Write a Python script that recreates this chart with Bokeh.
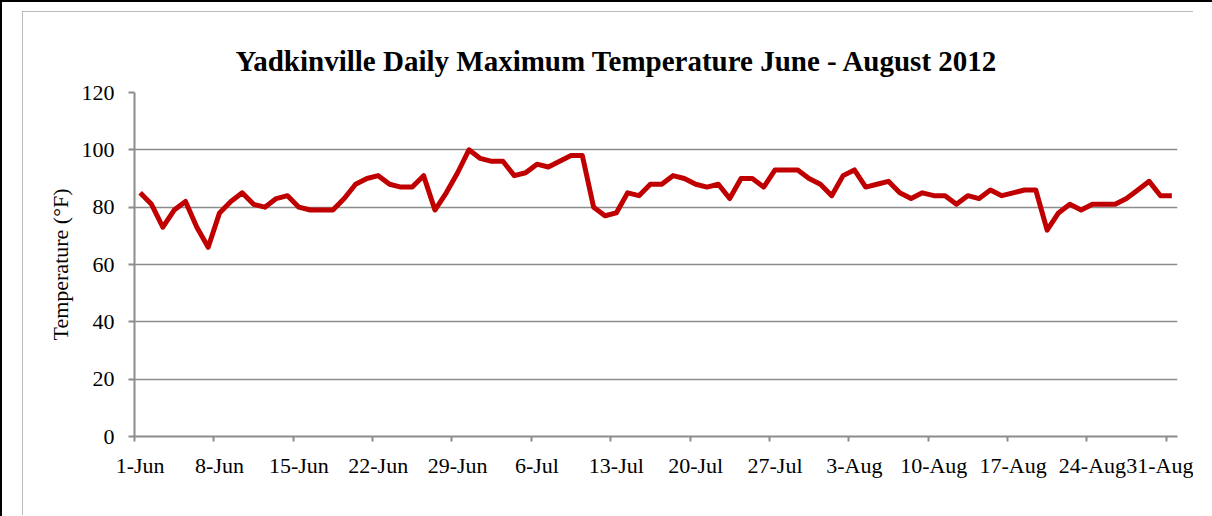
from bokeh.plotting import figure
from bokeh.models import Range1d, FixedTicker, LinearAxis
from bokeh.embed import file_html
from bokeh.resources import INLINE

# ---- data ----
tick_labels = ["1-Jun", "8-Jun", "15-Jun", "22-Jun", "29-Jun", "6-Jul", "13-Jul",
               "20-Jul", "27-Jul", "3-Aug", "10-Aug", "17-Aug", "24-Aug", "31-Aug"]
tick_days = [0, 7, 14, 21, 28, 35, 42, 49, 56, 63, 70, 77, 84, 91]
y_ticks = [0, 20, 40, 60, 80, 100, 120]
temps_june = [85, 81, 73, 79, 82, 73, 66, 78, 82, 85, 81, 80, 83, 84, 80, 79, 79, 79,
              83, 88, 90, 91, 88, 87, 87, 91, 79, 85, 92, 100]
temps_july = [97, 96, 96, 91, 92, 95, 94, 96, 98, 98, 80, 77, 78, 85, 84, 88, 88, 91,
              90, 88, 87, 88, 83, 90, 90, 87, 93, 93, 93, 90, 88]
temps_aug = [84, 91, 93, 87, 88, 89, 85, 83, 85, 84, 84, 81, 84, 83, 86, 84, 85, 86,
             86, 72, 78, 81, 79, 81, 81, 81, 83, 86, 89, 84, 84]
temps = temps_june + temps_july + temps_aug
days = list(range(len(temps)))
x_mid = [d + 0.5 for d in days]

FONT = "Liberation Serif"
GRID = "#8c8c8c"
FRAME_H = 344
LABEL_SIZE = 22

p = figure(width=1171, height=504, output_backend="svg", toolbar_location=None,
           x_range=Range1d(0, len(temps)), y_range=Range1d(0, 120),
           x_axis_location=None, y_axis_location="left",
           min_border_left=112, min_border_right=16, min_border_top=81,
           min_border_bottom=504 - 81 - FRAME_H)
p.margin = (11, 0, 0, 22)
p.styles = {
    "outline": "2px solid #a6a6a6",
    "outline-offset": "-2px",
    "box-shadow": "10px 21px 0 30px white, 8px 19px 0 30px black",
}
p.outline_line_color = None
p.background_fill_color = "white"
p.border_fill_color = "white"

p.title.text = "Yadkinville Daily Maximum Temperature June - August 2012"
p.title.text_font = FONT
p.title.text_font_style = "bold"
p.title.text_font_size = "29px"
p.title.align = "left"
p.title.offset = 101
p.title.standoff = 31
p.title.text_color = "black"

# y axis
ya = p.yaxis[0]
ya.ticker = FixedTicker(ticks=y_ticks)
ya.axis_label = "Temperature (°F)"
ya.axis_label_text_font = FONT
ya.axis_label_text_font_style = "normal"
ya.axis_label_text_font_size = "22px"
ya.axis_label_text_color = "black"
ya.axis_label_standoff = 6
ya.major_label_text_font = FONT
ya.major_label_text_font_size = f"{LABEL_SIZE}px"
ya.major_label_text_color = "black"
ya.major_label_standoff = 14
ya.axis_line_color = GRID
ya.axis_line_width = 2
ya.major_tick_line_color = GRID
ya.major_tick_line_width = 2
ya.major_tick_in = 0
ya.major_tick_out = 6
ya.minor_tick_line_color = None

p.ygrid.ticker = FixedTicker(ticks=y_ticks[1:])
p.ygrid.grid_line_color = GRID
p.ygrid.grid_line_width = 1.5
p.xgrid.grid_line_color = None

# x axis: tick marks at day boundaries
xa_ticks = LinearAxis(ticker=FixedTicker(ticks=tick_days),
                      major_label_overrides={d: "" for d in tick_days})
xa_ticks.axis_line_color = GRID
xa_ticks.axis_line_width = 2
xa_ticks.major_tick_line_color = GRID
xa_ticks.major_tick_line_width = 2
xa_ticks.major_tick_in = 0
xa_ticks.major_tick_out = 5
xa_ticks.minor_tick_line_color = None
xa_ticks.major_label_text_font_size = "0px"
xa_ticks.major_label_standoff = 0
p.add_layout(xa_ticks, "below")

# x axis: labels centred in day slots
label_pos = [d + 0.5 for d in tick_days]
xa_lab = LinearAxis(ticker=FixedTicker(ticks=label_pos),
                    major_label_overrides={pos: lab for pos, lab in zip(label_pos, tick_labels)})
xa_lab.axis_line_color = None
xa_lab.major_tick_line_color = None
xa_lab.minor_tick_line_color = None
xa_lab.major_label_text_font = FONT
xa_lab.major_label_text_font_size = f"{LABEL_SIZE}px"
xa_lab.major_label_text_color = "black"
xa_lab.major_label_standoff = 5
p.add_layout(xa_lab, "below")

p.line(x_mid, temps, line_color="#C00000", line_width=5, line_join="round")

open("out.html", "w").write(file_html(p, INLINE))
